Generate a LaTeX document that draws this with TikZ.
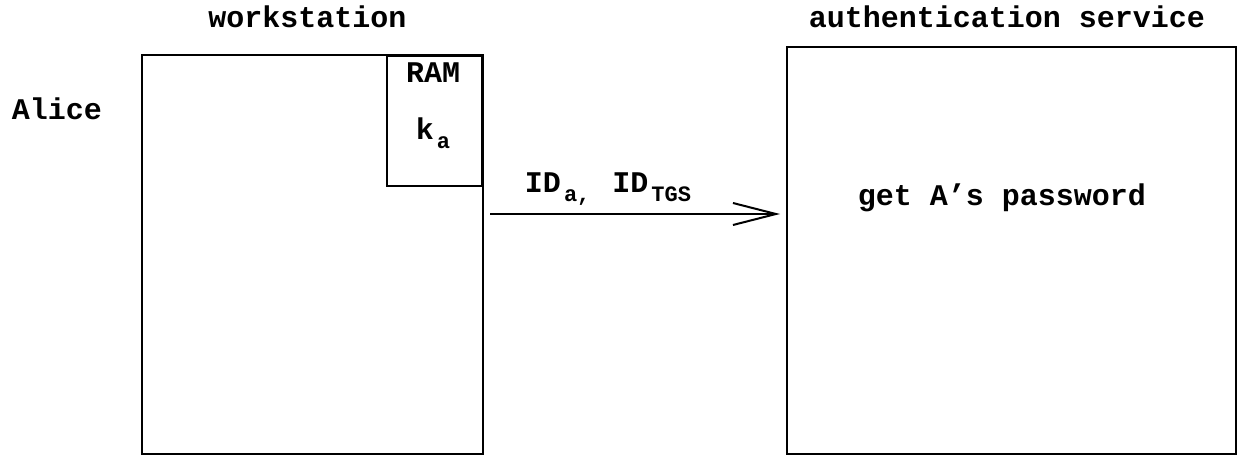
\documentclass[tikz,border=0pt]{standalone}
\usepackage{fontspec}
\setmonofont{Liberation Mono}
\usetikzlibrary{arrows.meta}
\tikzset{
  lbl/.style={font=\ttfamily\bfseries\fontsize{30}{32}\selectfont, inner sep=0pt, anchor=base},
  boxline/.style={draw=black, line width=2.4pt},
}
\newcommand{\subtt}[1]{\hspace{3pt}\raisebox{-9pt}{\fontsize{22}{23}\selectfont #1}}
\begin{document}
\begin{tikzpicture}[x=1pt,y=-1pt]
\useasboundingbox (0,0) rectangle (1239,457);
% boxes
\draw[boxline] (142,55) rectangle (483,454);
\node[boxline, inner sep=0pt, minimum width=95pt, minimum height=130pt, anchor=north east] (ram) at (483,55) {};
\draw[boxline] (787,47) rectangle (1236,454);
% labels
\node[lbl] (wst) at (307.5,28) {workstation};
\node[lbl] (aut) at (1007,28) {authentication service};
\node[lbl] (alice) at (57,120) {Alice};
\node[lbl] (ramt) at (433,83) {RAM};
\node[lbl] (ka) at (433,140) {k\subtt{a}};
\node[lbl] (pw) at (1002,206) {get A’s password};
\node[lbl] (msg) at (608,193) {ID\subtt{a,}\hspace{4pt} ID\subtt{TGS}};
% arrow
\draw[line width=2pt, -{Straight Barb[length=43pt,width=22pt,line width=2pt]}] (490,214) -- (780,214);
\end{tikzpicture}
\end{document}
